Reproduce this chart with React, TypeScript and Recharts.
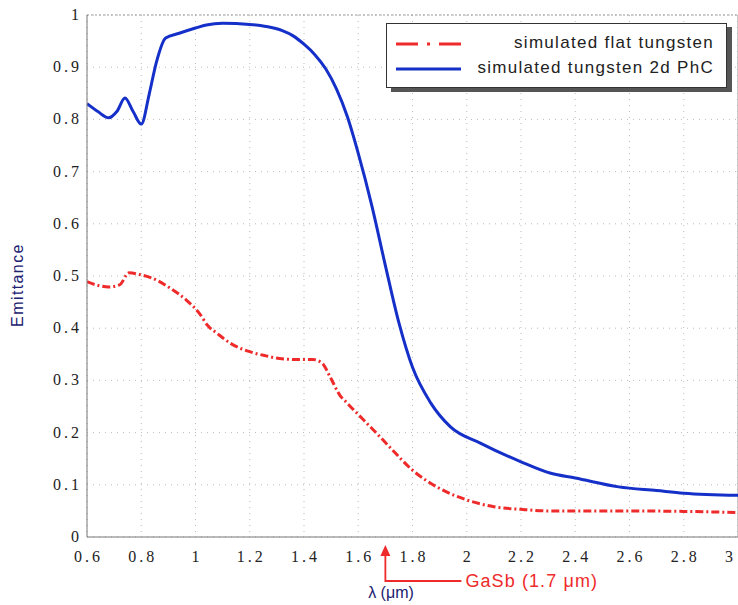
import React from 'react';
import { LineChart, Line, XAxis, YAxis, CartesianGrid, ReferenceLine, ReferenceDot } from 'recharts';

const phcLambda = [0.6, 0.64, 0.68, 0.71, 0.74, 0.77, 0.8, 0.83, 0.855, 0.89, 0.94, 1.0, 1.04, 1.1, 1.2, 1.26, 1.32, 1.36, 1.4, 1.44, 1.48, 1.52, 1.56, 1.6, 1.65, 1.7, 1.75, 1.8, 1.867, 1.94, 2.05, 2.2, 2.31, 2.4, 2.56, 2.7, 2.8, 3.0];
const phcValues = [0.83, 0.815, 0.803, 0.815, 0.841, 0.815, 0.791, 0.85, 0.908, 0.956, 0.965, 0.975, 0.981, 0.984, 0.982, 0.978, 0.97, 0.96, 0.944, 0.924, 0.897, 0.858, 0.805, 0.735, 0.635, 0.52, 0.41, 0.325, 0.257, 0.211, 0.18, 0.144, 0.122, 0.113, 0.096, 0.089, 0.084, 0.08];

const flatLambda = [0.6, 0.64, 0.68, 0.72, 0.755, 0.8, 0.84, 0.9, 0.966, 1.015, 1.045, 1.08, 1.126, 1.2, 1.26, 1.31, 1.38, 1.433, 1.467, 1.496, 1.533, 1.558, 1.62, 1.68, 1.72, 1.8, 1.9, 2.0, 2.1, 2.2, 2.3, 2.4, 2.6, 2.8, 3.0];
const flatValues = [0.489, 0.482, 0.479, 0.483, 0.506, 0.502, 0.496, 0.479, 0.454, 0.428, 0.405, 0.39, 0.372, 0.355, 0.347, 0.342, 0.34, 0.34, 0.333, 0.307, 0.271, 0.257, 0.224, 0.192, 0.17, 0.128, 0.093, 0.071, 0.058, 0.053, 0.05, 0.05, 0.05, 0.049, 0.047];

const xTicks = [0.6, 0.8, 1, 1.2, 1.4, 1.6, 1.8, 2, 2.2, 2.4, 2.6, 2.8, 3];
const yTicks = [0, 0.1, 0.2, 0.3, 0.4, 0.5, 0.6, 0.7, 0.8, 0.9, 1];

const seriesNames = ['simulated flat tungsten', 'simulated tungsten 2d PhC'];
const annotationLambda = 1.7;
const annotationText = 'GaSb (1.7 μm)';

const phcData = phcLambda.map((x, i) => ({ x, y: phcValues[i] }));
const flatData = flatLambda.map((x, i) => ({ x, y: flatValues[i] }));

const serif = "'Liberation Serif', 'Times New Roman', serif";
const sans = "'Liberation Sans', Arial, sans-serif";

const tickTextStyle: React.CSSProperties = { fontFamily: serif, fontSize: 16, letterSpacing: 3, fill: '#222' };

const XTick = (props: any) => {
  const { x, y, payload } = props;
  const last = payload.value === xTicks[xTicks.length - 1];
  return (
    <g transform={`translate(${x},${y})`}>
      <text x={last ? 2 : 1.5} y={23} textAnchor={last ? 'end' : 'middle'} style={tickTextStyle}>
        {String(payload.value)}
      </text>
    </g>
  );
};

const YTick = (props: any) => {
  const { x, y, payload } = props;
  return (
    <g transform={`translate(${x},${y})`}>
      <text x={-3} y={5} textAnchor="end" style={tickTextStyle}>
        {String(payload.value)}
      </text>
    </g>
  );
};

const LegendBox = () => (
  <div style={{ position: 'absolute', left: 386, top: 23, width: 339, height: 63, border: '1.5px solid #333', background: '#fff', boxShadow: '5px 4px 0 #555', fontFamily: sans, fontSize: 17, letterSpacing: 1.3, color: '#222' }}>
    <svg width={80} height={63} style={{ position: 'absolute', left: 0, top: 0 }}>
      <line x1={9} x2={74} y1={20} y2={20} stroke="#ee2a2a" strokeWidth={3} strokeDasharray="22 9 3 9 24" />
      <line x1={9} x2={74} y1={45} y2={45} stroke="#1530c8" strokeWidth={3} />
    </svg>
    <div style={{ position: 'absolute', right: 12, top: 9, whiteSpace: 'nowrap' }}>{seriesNames[0]}</div>
    <div style={{ position: 'absolute', right: 12, top: 34, whiteSpace: 'nowrap' }}>{seriesNames[1]}</div>
  </div>
);

const Annotation = (props: any) => {
  const { cx, cy } = props;
  if (cx == null || cy == null) return null;
  const c = '#ee2a2a';
  return (
    <g>
      <polygon points={`${cx},${cy + 8} ${cx - 5},${cy + 19} ${cx + 5},${cy + 19}`} fill={c} />
      <polyline points={`${cx},${cy + 18} ${cx},${cy + 44} ${cx + 76},${cy + 44}`} fill="none" stroke={c} strokeWidth={1.8} />
      <text x={cx + 80} y={cy + 50} style={{ fontFamily: sans, fontSize: 18, letterSpacing: 1.1, fill: c }}>{annotationText}</text>
    </g>
  );
};

export default function App() {
  return (
    <div style={{ position: 'absolute', left: 0, top: 0, width: 738, height: 605, background: '#fff', overflow: 'hidden' }}>
      <LineChart width={738} height={605} margin={{ top: 15, right: 0, bottom: 0, left: 0 }}>
        <CartesianGrid stroke="#bbb" strokeDasharray="1 5" horizontalValues={yTicks} verticalValues={xTicks} />
        <XAxis
          type="number"
          dataKey="x"
          domain={[0.6, 3]}
          ticks={xTicks}
          allowDataOverflow
          height={68}
          tick={<XTick />}
          tickSize={0}
          stroke="#777"
        />
        <YAxis
          type="number"
          dataKey="y"
          domain={[0, 1]}
          ticks={yTicks}
          width={87}
          tick={<YTick />}
          tickSize={0}
          stroke="#777"
        />
        <ReferenceLine y={1} stroke="#999" strokeDasharray="2 2" />
        <ReferenceLine x={3} stroke="#999" />
        <Line data={flatData} dataKey="y" type="monotone" stroke="#ee2a2a" strokeWidth={3} strokeDasharray="8 3 2 3" dot={false} isAnimationActive={false} name={seriesNames[0]} />
        <Line data={phcData} dataKey="y" type="monotone" stroke="#1530c8" strokeWidth={3} dot={false} isAnimationActive={false} name={seriesNames[1]} />
        <ReferenceDot x={annotationLambda} y={0} r={0} ifOverflow="visible" shape={(p: any) => <Annotation {...p} />} />
      </LineChart>
      <LegendBox />
      <div style={{ position: 'absolute', left: 18, top: 285, transform: 'translate(-50%, -50%) rotate(-90deg)', fontFamily: sans, fontSize: 16, letterSpacing: 1.4, color: '#202070', whiteSpace: 'nowrap' }}>Emittance</div>
      <div style={{ position: 'absolute', left: 391, top: 593, transform: 'translate(-50%, -50%)', fontFamily: sans, fontSize: 16, color: '#202070', whiteSpace: 'nowrap' }}>λ (μm)</div>
    </div>
  );
}
